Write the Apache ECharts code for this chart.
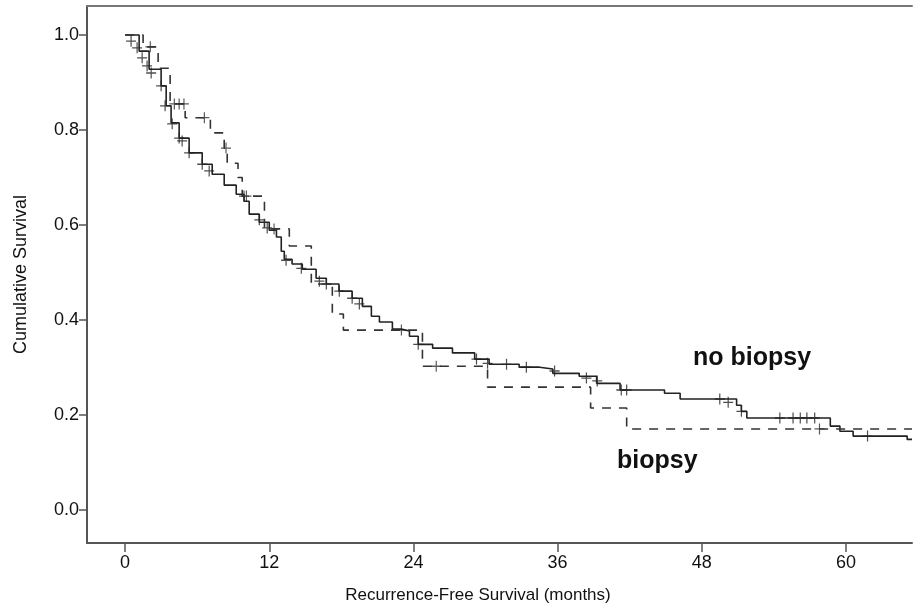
<!DOCTYPE html>
<html>
<head>
<meta charset="utf-8">
<script src="https://cdn.jsdelivr.net/npm/echarts@6/dist/echarts.min.js"></script>
<style>html,body{margin:0;padding:0;background:#fff;}#c{width:914px;height:611px;}</style>
</head>
<body>
<div id="c"></div>
<script>
// ---- data ----
var xTicks = [0, 12, 24, 36, 48, 60];
var yTicks = [0, 0.2, 0.4, 0.6, 0.8, 1.0];

var noBiopsyT = [0, 1.17, 2.0, 3.0, 3.42, 3.83, 4.5, 5.33, 6.42, 7.25, 8.25, 9.25, 9.9, 10.33, 11.17, 12.0, 12.6, 13.0, 13.25, 13.9, 14.75, 15.9, 16.75, 17.8, 18.9, 19.75, 20.5, 21.17, 22.25, 23.0, 23.67, 24.4, 25.6, 27.25, 29.1, 30.3, 32.8, 34.5, 35.6, 37.8, 39.25, 41.2, 44.9, 46.2, 50.9, 51.3, 51.75, 58.7, 59.5, 60.6, 65.1, 65.5];
var noBiopsyS = [1.0, 0.966, 0.928, 0.893, 0.851, 0.815, 0.783, 0.752, 0.728, 0.707, 0.684, 0.665, 0.65, 0.623, 0.606, 0.589, 0.575, 0.545, 0.528, 0.518, 0.507, 0.488, 0.476, 0.461, 0.446, 0.429, 0.408, 0.396, 0.381, 0.377, 0.366, 0.349, 0.341, 0.331, 0.318, 0.307, 0.301, 0.297, 0.288, 0.282, 0.267, 0.253, 0.246, 0.234, 0.221, 0.208, 0.194, 0.177, 0.166, 0.156, 0.149, 0.149];

var biopsyT = [0, 1.5, 2.75, 3.75, 5.0, 7.1, 8.25, 8.5, 9.4, 9.75, 11.6, 13.67, 15.5, 17.25, 18.17, 24.75, 30.17, 38.75, 41.75, 65.5];
var biopsyS = [1.0, 0.975, 0.93, 0.855, 0.826, 0.794, 0.762, 0.73, 0.70, 0.661, 0.592, 0.556, 0.476, 0.413, 0.379, 0.303, 0.259, 0.215, 0.171, 0.171];

var noBiopsyCensT = [0.5, 1.0, 1.42, 1.83, 2.17, 3.0, 3.33, 3.92, 4.5, 4.75, 5.33, 6.42, 7.0, 9.9, 11.17, 11.83, 13.4, 14.67, 16.17, 16.75, 17.83, 18.9, 19.5, 24.4, 29.25, 30.17, 31.75, 33.4, 35.75, 38.4, 39.3, 41.3, 41.75, 49.5, 50.2, 51.3, 54.5, 55.6, 56.2, 56.75, 57.4, 61.8];
var noBiopsyCensS = [0.987, 0.973, 0.952, 0.935, 0.92, 0.893, 0.851, 0.813, 0.783, 0.777, 0.752, 0.728, 0.714, 0.661, 0.611, 0.594, 0.526, 0.509, 0.482, 0.476, 0.461, 0.446, 0.434, 0.349, 0.318, 0.309, 0.307, 0.301, 0.293, 0.278, 0.272, 0.253, 0.253, 0.234, 0.227, 0.208, 0.194, 0.194, 0.194, 0.194, 0.194, 0.156];

var biopsyCensT = [2.1, 4.1, 4.5, 4.9, 6.6, 8.4, 10.1, 12.4, 23.0, 25.9, 57.8];
var biopsyCensS = [0.975, 0.855, 0.855, 0.855, 0.826, 0.762, 0.661, 0.592, 0.379, 0.303, 0.171];

var xTitle = 'Recurrence-Free Survival (months)';
var yTitle = 'Cumulative Survival';
var label1 = 'no biopsy';
var label2 = 'biopsy';

function zip(a, b) { return a.map(function (v, i) { return [v, b[i]]; }); }

var plus = 'path://M0,4.4h10v1.2h-10z M4.4,0h1.2v10h-1.2z';
var axisCol = '#555';
var font = 'Liberation Sans, Arial, sans-serif';

var chart = echarts.init(document.getElementById('c'), null, { renderer: 'canvas' });
chart.setOption({
  animation: false,
  backgroundColor: '#fff',
  grid: { left: 87, right: 2, top: 6, bottom: 68 },
  xAxis: [{
    type: 'value', min: -3.17, max: 65.5, position: 'bottom',
    axisLine: { show: true, onZero: false, lineStyle: { color: axisCol, width: 2 } },
    axisTick: { show: true, customValues: xTicks, length: 9, lineStyle: { color: axisCol, width: 1.5 } },
    axisLabel: { customValues: xTicks, color: '#111', fontSize: 18, fontFamily: font, margin: 11 },
    splitLine: { show: false }
  }, {
    type: 'value', min: -3.17, max: 65.5, position: 'top',
    axisLine: { show: true, onZero: false, lineStyle: { color: '#777', width: 2 } },
    axisTick: { show: false }, axisLabel: { show: false }, splitLine: { show: false }
  }],
  yAxis: {
    type: 'value', min: -0.069, max: 1.061,
    axisLine: { show: true, onZero: false, lineStyle: { color: axisCol, width: 2 } },
    axisTick: { show: true, customValues: yTicks, length: 8, lineStyle: { color: axisCol, width: 1.5 } },
    axisLabel: { customValues: yTicks, color: '#111', fontSize: 18, fontFamily: font, margin: 8,
      formatter: function (v) { return v.toFixed(1); } },
    splitLine: { show: false },
    name: yTitle, nameLocation: 'middle', nameGap: 57, nameRotate: 90,
    nameTextStyle: { color: '#111', fontSize: 18, fontFamily: font }
  },
  series: [{
    name: 'no biopsy', type: 'line', step: 'end', xAxisIndex: 0,
    data: zip(noBiopsyT, noBiopsyS), showSymbol: false, symbol: 'none',
    lineStyle: { color: '#222', width: 1.6 }
  }, {
    name: 'biopsy', type: 'line', step: 'end', xAxisIndex: 0,
    data: zip(biopsyT, biopsyS), showSymbol: false, symbol: 'none',
    lineStyle: { color: '#333', width: 1.6, type: [9, 8] }
  }, {
    type: 'scatter', xAxisIndex: 0, data: zip(noBiopsyCensT, noBiopsyCensS),
    symbol: plus, symbolSize: [10, 11], itemStyle: { color: '#222' }
  }, {
    type: 'scatter', xAxisIndex: 0, data: zip(biopsyCensT, biopsyCensS),
    symbol: plus, symbolSize: [10, 11], itemStyle: { color: '#333' }
  }],
  graphic: [{
    type: 'text', left: 693, top: 346,
    style: { text: label1, fill: '#111', font: 'bold 25px ' + font }
  }, {
    type: 'text', left: 617, top: 449,
    style: { text: label2, fill: '#111', font: 'bold 25px ' + font }
  }, {
    type: 'text', x: 478, y: 595,
    style: { text: xTitle, fill: '#111', font: '17px ' + font, align: 'center', verticalAlign: 'middle' }
  }]
});
</script>
</body>
</html>
